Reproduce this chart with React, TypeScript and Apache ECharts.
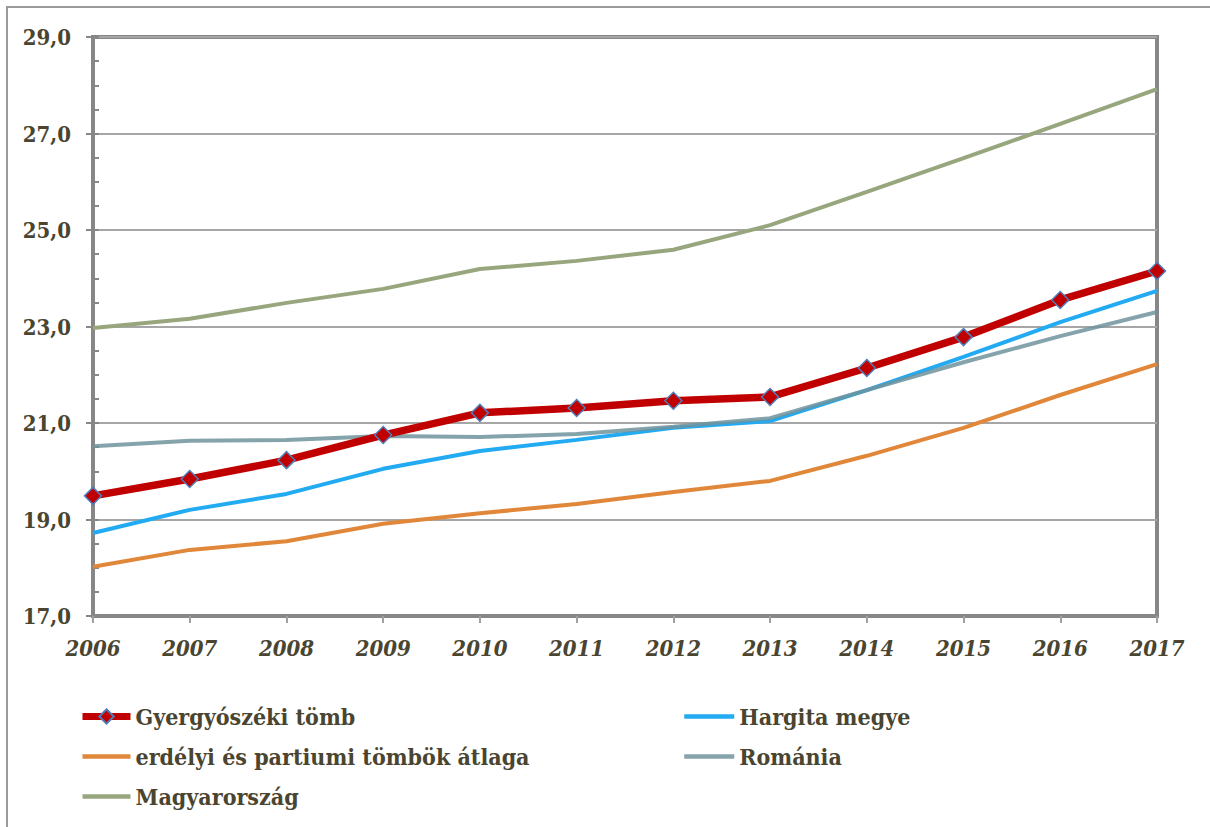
import React, { useEffect, useRef } from "react";
import * as echarts from "echarts";

const years = ["2006", "2007", "2008", "2009", "2010", "2011", "2012", "2013", "2014", "2015", "2016", "2017"];
const gyergyo = [19.49, 19.84, 20.23, 20.75, 21.21, 21.31, 21.46, 21.54, 22.14, 22.78, 23.55, 24.15];
const hargita = [18.72, 19.2, 19.53, 20.05, 20.42, 20.65, 20.9, 21.04, 21.68, 22.37, 23.09, 23.74];
const erdelyi = [18.02, 18.37, 18.55, 18.91, 19.13, 19.32, 19.57, 19.8, 20.32, 20.9, 21.58, 22.22];
const romania = [20.52, 20.63, 20.65, 20.73, 20.71, 20.77, 20.92, 21.1, 21.68, 22.26, 22.8, 23.3];
const magyar = [22.97, 23.16, 23.49, 23.78, 24.19, 24.36, 24.59, 25.1, 25.79, 26.49, 27.2, 27.92];

const names = [
  "Gyergyószéki tömb",
  "Hargita megye",
  "erdélyi és partiumi tömbök átlaga",
  "Románia",
  "Magyarország",
];

const textColor = "#4A4530";
const font = "DejaVu Serif Condensed, DejaVu Serif";

export default function App() {
  const ref = useRef<HTMLDivElement>(null);
  useEffect(() => {
    if (!ref.current) return;
    const chart = echarts.init(ref.current, null, { renderer: "svg" });
    const lineSeries = (name: string, data: number[], color: string, width: number, opacity = 1) => ({
      name,
      type: "line",
      data,
      symbol: "none",
      lineStyle: { color, width, opacity },
      itemStyle: { color },
    });
    const legendText = { color: textColor, fontSize: 23, fontWeight: "bold", fontFamily: font, padding: [0, 0, 0, 0] };
    const plainItem = (name: string) => ({ name, itemStyle: { opacity: 0 }, lineStyle: { width: 4.5 } });
    chart.setOption({
      animation: false,
      backgroundColor: "#fff",
      textStyle: { fontFamily: font },
      grid: {
        left: 93,
        right: 1210 - 1157,
        top: 37,
        bottom: 827 - 616,
        show: true,
        borderColor: "#878787",
        borderWidth: 4,
      },
      legend: [
        {
          left: 79,
          top: 705,
          padding: 0,
          orient: "vertical",
          itemGap: 17,
          itemWidth: 48,
          itemHeight: 18,
          data: [{ name: names[0], lineStyle: { width: 7 } }, plainItem(names[2]), plainItem(names[4])],
          textStyle: legendText,
        },
        {
          left: 682,
          top: 705,
          padding: 0,
          orient: "vertical",
          itemGap: 17,
          itemWidth: 50,
          itemHeight: 18,
          data: [plainItem(names[1]), plainItem(names[3])],
          textStyle: legendText,
        },
      ],
      xAxis: {
        type: "category",
        data: years,
        boundaryGap: false,
        axisLine: { lineStyle: { color: "#878787", width: 4 } },
        axisTick: { show: true, length: 7, lineStyle: { color: "#A0A0A0", width: 2 } },
        axisLabel: {
          color: textColor,
          fontSize: 22,
          fontWeight: "bold",
          fontStyle: "italic",
          fontFamily: font,
          margin: 21,
        },
        splitLine: { show: false },
      },
      yAxis: [
        {
          type: "value",
          min: 17,
          max: 29,
          interval: 2,
          axisLine: { show: true, lineStyle: { color: "#878787", width: 4 } },
          axisTick: { show: true, length: 7, lineStyle: { color: "#878787", width: 2 } },
          axisLabel: {
            color: textColor,
            fontSize: 22,
            fontWeight: "bold",
            fontFamily: font,
            margin: 22,
            formatter: (v: number) => v.toFixed(1).replace(".", ","),
          },
          splitLine: { show: true, lineStyle: { color: "#A6A6A6", width: 2 } },
        },
        {
          type: "value",
          position: "left",
          min: 17,
          max: 29,
          interval: 0.5,
          axisLine: { show: false },
          axisTick: { show: true, inside: true, length: 6, lineStyle: { color: "#878787", width: 2 } },
          axisLabel: { show: false },
          splitLine: { show: false },
        },
      ],
      series: [
        lineSeries(names[4], magyar, "#98A67E", 4),
        lineSeries(names[2], erdelyi, "#E0873A", 4),
        lineSeries(names[1], hargita, "#22AAF2", 4),
        lineSeries(names[3], romania, "#6F939C", 4, 0.85),
        {
          name: names[0],
          type: "line",
          data: gyergyo,
          symbol: "diamond",
          symbolSize: 17,
          lineStyle: { color: "#C00000", width: 7.5 },
          itemStyle: { color: "#C00000", borderColor: "#4F7DB8", borderWidth: 1.5 },
          z: 5,
        },
      ],
      graphic: [
        {
          type: "rect",
          shape: { x: 7, y: 7, width: 1300, height: 900 },
          style: { fill: "none", stroke: "#9A9A9A", lineWidth: 2 },
          silent: true,
        },
      ],
    });
    return () => chart.dispose();
  }, []);
  return <div ref={ref} style={{ position: "absolute", left: 0, top: 0, width: 1210, height: 827 }} />;
}
